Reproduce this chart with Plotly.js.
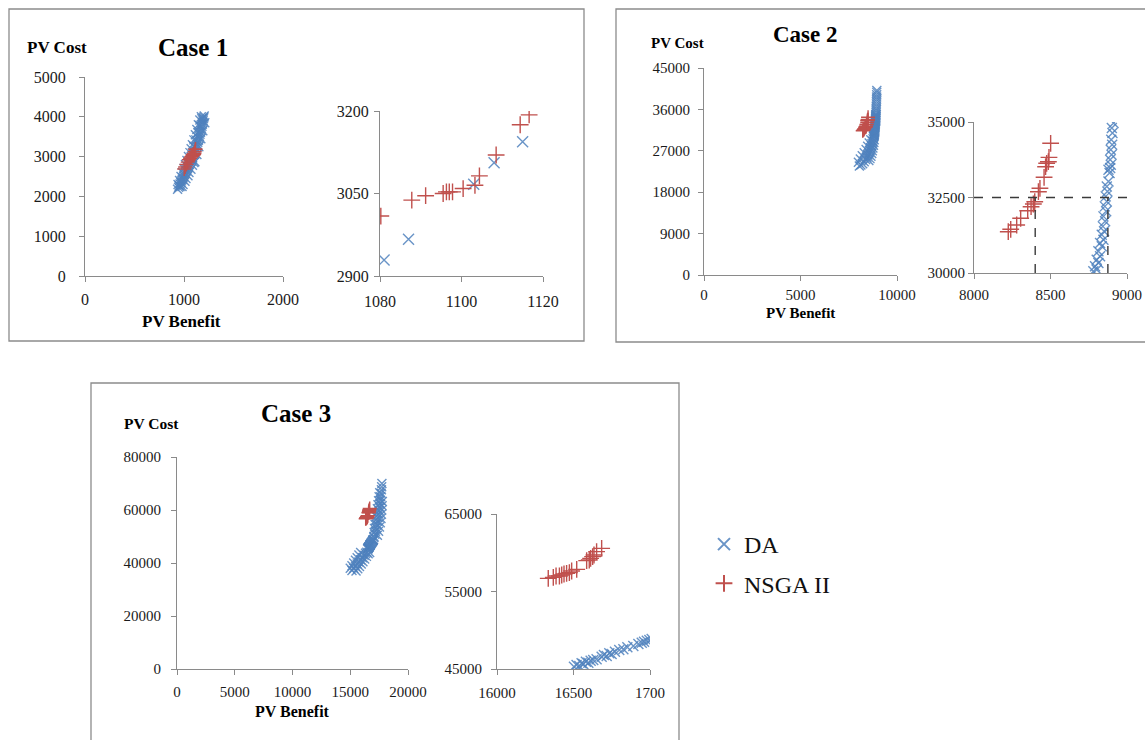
<!DOCTYPE html>
<html>
<head>
<meta charset="utf-8">
<script src="https://cdn.plot.ly/plotly-3.0.1.min.js"></script>
<style>html,body{margin:0;padding:0;background:#fff;}#chart{width:1145px;height:740px;}</style>
</head>
<body>
<div id="chart"></div>
<script>
// ---------------- DATA ----------------
const seriesNames = ["DA", "NSGA II"];
const caseTitles = ["Case 1", "Case 2", "Case 3"];
const xTitle = "PV Benefit";
const yTitle = "PV Cost";

// Case 1
const case1DA_x = [935,945,952,960,968,975,982,990,997,1004,1012,1020,1028,1036,1044,1052,1060,1068,1074,
  1081,1087,1103,1108,1115,
  1121,1127,1133,1139,1145,1150,1156,1161,1166,1171,1176,1181,1185,1189,1193,1197,1200,1204,
  960,990,1020,1050,1085,1110,1100,1120,1140,1160,1180,
  940,955,970,985,1000,1015,1030,1045,1060,1072,1085,1100,1115,1130,1145,1160,1175,
  980,1010,1040,1070,1100,1130,1150,1170,1190,1210];
const case1DA_y = [2180,2230,2270,2310,2350,2390,2430,2470,2510,2550,2590,2630,2680,2720,2760,2800,2840,2880,2905,
  2929,2967,3067,3106,3144,
  3215,3260,3310,3360,3410,3460,3510,3560,3610,3660,3710,3760,3810,3860,3900,3950,3990,4020,
  2250,2300,2450,2600,2780,2870,3260,3420,3600,3780,3950,
  2300,2400,2500,2600,2700,2800,2900,3000,3100,3200,3300,3420,3550,3680,3800,3920,4000,
  2250,2380,2520,2680,2850,3050,3250,3450,3650,3850];
const case1NSGA_x = [1002,1012,1025,1038,1050,1062,1072,
  1080.2,1087.8,1091.2,1095.5,1096.3,1097,1097.8,1100.4,1103.3,1104.4,1108.5,1114.4,1116.6];
const case1NSGA_y = [2690,2740,2800,2860,2920,2960,2990,
  3009,3038,3046,3050,3053,3053,3053,3059,3065,3082,3120,3175,3193];

// Case 2
const case2DA_x = [8780,8802,8791,8813,8802,8824,8813,8835,8824,8846,8835,8850,8842,8857,8846,8864,8855,8868,8861,8872,8868,8879,8886,8879,8890,8894,8890,8899,8894,8903,8897,8905,8901,8912,
  8760,8735,8705,8670,8630,8590,8545,8495,8440,8375,8300,8220,8130,8050,
  8820,8800,8780,8750,8720,8690,8650,8600,8540,
  8000,8100,8200,8300,8400,8480,8560,8640,
  8915,8918,8922,8926,8930,8935,8940,8944,8948,8952,8955];
const case2DA_y = [30055,30110,30221,30331,30441,30552,30717,30882,30993,31103,31268,31379,31544,31710,31875,32041,32206,32371,32537,32702,32868,33033,33309,33419,33474,33585,33750,33916,34081,34247,34412,34633,34798,34964,
  29600,29100,28600,28100,27600,27100,26600,26100,25600,25100,24600,24200,23900,23700,
  29400,28800,28200,27600,27000,26400,25800,25300,24900,
  24500,25200,25900,26600,27300,28000,28700,29400,
  35400,35800,36200,36700,37200,37700,38200,38700,39200,39700,40100];
const case2NSGA_x = [8224,8240,8279,8305,8351,8373,8388,8397,8421,8431,8458,8468,8475,8486,8490,8501];
const case2NSGA_y = [31368,31447,31589,31811,32063,32195,32285,32361,32692,32805,33169,33520,33632,33686,33830,34295];
const case2RefCost = 32500;
const case2RefBenefit = [8400, 8875];

// Case 3
const case3DA_x = [16503,16520,16538,16553,16564,16581,16597,16612,16629,16651,16684,16699,16717,16734,16749,16771,16799,16826,16852,16891,16924,16946,16961,16979,16996,17011,
  15150,15300,15450,15600,15750,15900,16050,16200,16320,16430,
  15500,15650,15800,15950,16100,16250,16400,16550,16680,
  15000,15150,15300,15450,15600,15750,15900,
  17050,17120,17180,17240,17300,17350,17400,17450,17500,17540,17580,17610,17640,17670,17700,17720,17740,
  17350,17450,17530,17600,17660,17700,17730,17760,17780,
  17045,17070,17100,17150,17200,17250,17300,17350,17400,17450,17500,17550];
const case3DA_y = [45301,45516,45387,45731,45645,45946,45817,46075,46161,46247,46591,46806,46677,47021,46935,47236,47451,47537,47795,47967,48225,48397,48526,48655,48741,48870,
  37200,38000,38800,39600,40400,41200,42000,42900,43700,44100,
  37000,37800,38700,39600,40500,41500,42500,43500,44000,
  38000,39000,40000,41000,42000,43000,44000,
  49600,50800,52000,53300,54600,55900,57200,58500,59800,61100,62400,63700,65000,66300,67600,68800,70000,
  50500,52000,53600,55200,56800,58400,60000,61600,63200,
  50000,51500,53000,54500,56000,57500,59000,60500,62000,63500,65000,66500];
const case3NSGA_x = [16335,16368,16386,16408,16423,16438,16455,16473,16488,16521,16586,16603,16612,16625,16634,16651,16684];
const case3NSGA_y = [56699,56829,57000,57000,57129,57258,57344,57430,57645,57860,58978,59065,59280,59495,59710,60140,60570];

// Axis ticks
const c1aXTicks = [0,1000,2000], c1aYTicks = [0,1000,2000,3000,4000,5000];
const c1bXTicks = [1080,1100,1120], c1bYTicks = [2900,3050,3200];
const c2aXTicks = [0,5000,10000], c2aYTicks = [0,9000,18000,27000,36000,45000];
const c2bXTicks = [8000,8500,9000], c2bYTicks = [30000,32500,35000];
const c3aXTicks = [0,5000,10000,15000,20000], c3aYTicks = [0,20000,40000,60000,80000];
const c3bXTicks = [16000,16500,17000], c3bXLabels = ["16000","16500","1700"], c3bYTicks = [45000,55000,65000];

// ---------------- STYLE / LAYOUT ----------------
const W = 1145, H = 740;
const px = v => v / W;
const py = v => 1 - v / H;
const SERIF = "Liberation Serif, Times New Roman, serif";
const DA_COLOR = "rgba(79,129,189,0.85)";
const NS_COLOR = "#C0504D";
const AX_COLOR = "#8a8a8a";

function axis(d0, d1, range, ticks, labels, fs, anchor, standoff) {
  return {
    domain: [d0, d1], range: range, anchor: anchor,
    tickmode: "array", tickvals: ticks, ticktext: labels || ticks.map(String),
    showline: true, linecolor: AX_COLOR, linewidth: 1,
    ticks: "outside", ticklen: 5, tickcolor: AX_COLOR, tickwidth: 1,
    ticklabelstandoff: standoff,
    showgrid: false, zeroline: false, fixedrange: true,
    tickfont: {family: SERIF, size: fs, color: "#1a1a1a"}
  };
}

function pair(xs, ys, name, xa, ya, symbol, color, size, show) {
  return {
    type: "scatter", mode: "markers", x: xs, y: ys, name: name,
    xaxis: xa, yaxis: ya, legendgroup: name, showlegend: show,
    marker: {symbol: symbol, size: size, color: color, line: {color: color, width: 1.4}}
  };
}

const traces = [
  pair(case1DA_x, case1DA_y, seriesNames[0], "x", "y", "x-thin-open", DA_COLOR, 9, true),
  pair(case1NSGA_x, case1NSGA_y, seriesNames[1], "x", "y", "cross-thin-open", NS_COLOR, 10, true),
  pair(case1DA_x, case1DA_y, seriesNames[0], "x2", "y2", "x-thin-open", DA_COLOR, 11, false),
  pair(case1NSGA_x, case1NSGA_y, seriesNames[1], "x2", "y2", "cross-thin-open", NS_COLOR, 12, false),
  pair(case2DA_x, case2DA_y, seriesNames[0], "x3", "y3", "x-thin-open", DA_COLOR, 9, false),
  pair(case2NSGA_x, case2NSGA_y, seriesNames[1], "x3", "y3", "cross-thin-open", NS_COLOR, 10, false),
  pair(case2DA_x, case2DA_y, seriesNames[0], "x4", "y4", "x-thin-open", DA_COLOR, 10, false),
  pair(case2NSGA_x, case2NSGA_y, seriesNames[1], "x4", "y4", "cross-thin-open", NS_COLOR, 12, false),
  pair(case3DA_x, case3DA_y, seriesNames[0], "x5", "y5", "x-thin-open", DA_COLOR, 9, false),
  pair(case3NSGA_x, case3NSGA_y, seriesNames[1], "x5", "y5", "cross-thin-open", NS_COLOR, 10, false),
  pair(case3DA_x, case3DA_y, seriesNames[0], "x6", "y6", "x-thin-open", DA_COLOR, 10, false),
  pair(case3NSGA_x, case3NSGA_y, seriesNames[1], "x6", "y6", "cross-thin-open", NS_COLOR, 12, false)
];

function label(text, x, y, size) {
  return {text: "<b>" + text + "</b>", xref: "paper", yref: "paper", x: px(x), y: py(y),
    xanchor: "center", yanchor: "middle", showarrow: false,
    font: {family: SERIF, size: size, color: "#000"}};
}

function box(x0, y0, x1, y1) {
  return {type: "rect", xref: "paper", yref: "paper", x0: px(x0), x1: px(x1), y0: py(y0), y1: py(y1),
    line: {color: "#8c8c8c", width: 1.3}, fillcolor: "rgba(0,0,0,0)", layer: "below"};
}

const dash = {color: "#3a3a3a", width: 1.4, dash: "dash"};

const layout = {
  width: W, height: H,
  margin: {l: 0, r: 0, t: 0, b: 0},
  paper_bgcolor: "#fff", plot_bgcolor: "rgba(0,0,0,0)",
  showlegend: true,
  legend: {x: px(704), y: py(522), xanchor: "left", yanchor: "top",
    font: {family: SERIF, size: 24, color: "#111"}, tracegroupgap: 5,
    bgcolor: "rgba(0,0,0,0)", itemsizing: "constant"},
  xaxis:  axis(px(85),  px(283), [0, 2000], c1aXTicks, null, 16, "y", 4),
  yaxis:  axis(py(276), py(77),  [0, 5000], c1aYTicks, null, 16, "x", 10),
  xaxis2: axis(px(380), px(543), [1080, 1120], c1bXTicks, null, 16, "y2", 6),
  yaxis2: axis(py(276), py(111), [2900, 3200], c1bYTicks, null, 16, "x2", 2),
  xaxis3: axis(px(704), px(897), [0, 10000], c2aXTicks, null, 15, "y3", 1),
  yaxis3: axis(py(275), py(68),  [0, 45000], c2aYTicks, null, 15, "x3", 5),
  xaxis4: axis(px(974), px(1127), [8000, 9000], c2bXTicks, null, 15, "y4", 3),
  yaxis4: axis(py(273), py(122), [30000, 35000], c2bYTicks, null, 15, "x4", 0),
  xaxis5: axis(px(177), px(408), [0, 20000], c3aXTicks, null, 15, "y5", 4),
  yaxis5: axis(py(669), py(457), [0, 80000], c3aYTicks, null, 15, "x5", 7),
  xaxis6: axis(px(497), px(650), [16000, 17000], c3bXTicks, c3bXLabels, 15, "y6", 5),
  yaxis6: axis(py(669), py(514), [45000, 65000], c3bYTicks, null, 15, "x6", 6),
  shapes: [
    box(9, 9, 584, 341),
    box(616, 9, 1150, 342),
    box(91, 383, 679, 750),
    {type: "line", xref: "x4", yref: "y4", x0: c2bXTicks[0], x1: c2bXTicks[2], y0: case2RefCost, y1: case2RefCost, line: dash},
    {type: "line", xref: "x4", yref: "y4", x0: case2RefBenefit[0], x1: case2RefBenefit[0], y0: c2bYTicks[0], y1: case2RefCost, line: dash},
    {type: "line", xref: "x4", yref: "y4", x0: case2RefBenefit[1], x1: case2RefBenefit[1], y0: c2bYTicks[0], y1: case2RefCost, line: dash}
  ],
  annotations: [
    label(caseTitles[0], 193, 47, 25),
    label(yTitle, 57, 47, 17),
    label(xTitle, 181, 321, 17),
    label(caseTitles[1], 805, 35, 23),
    label(yTitle, 677, 43, 15),
    label(xTitle, 800, 313, 15),
    label(caseTitles[2], 296, 414, 25),
    label(yTitle, 151, 423, 15.5),
    label(xTitle, 292, 711, 16)
  ]
};

Plotly.newPlot("chart", traces, layout, {displayModeBar: false, staticPlot: true});
</script>
</body>
</html>
